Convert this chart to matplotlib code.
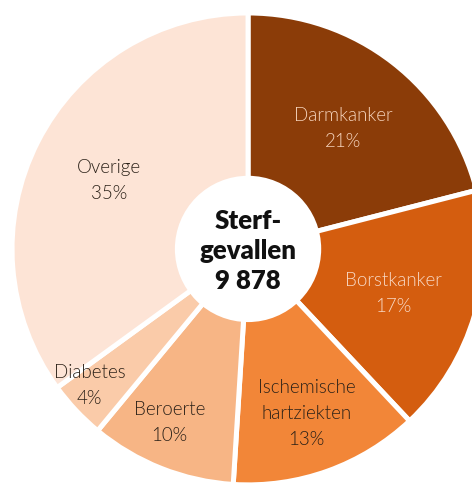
import numpy as np
import matplotlib.pyplot as plt
from matplotlib.patches import Circle

# data
labels = ['Darmkanker', 'Borstkanker', 'Ischemische\nhartziekten', 'Beroerte', 'Diabetes', 'Overige']
shares = [21, 17, 13, 10, 4, 35]
total_label = 'Sterf-\ngevallen\n9 878'

colors = ['#8B3C08', '#D45D0F', '#F28638', '#F7B585', '#FACBA9', '#FDE4D6']
text_colors = ['#F6D4BD', '#F8D9C6', '#2B2118', '#2B2118', '#2B2118', '#2B2118']
label_dist = [0.66, 0.64, 0.73, 0.80, 0.88, 0.66]
label_turn = [0, 0, 0, -3, -3, 0]  # kleine hoekcorrectie voor labels (graden)

plt.rcParams['font.family'] = ['Lato', 'DejaVu Sans']

fig = plt.figure(figsize=(4.72, 4.83), dpi=100)
ax = fig.add_axes([0, 0, 1, 1])

wedges, _ = ax.pie(shares, colors=colors, startangle=90, counterclock=False,
                   radius=1.0, wedgeprops=dict(edgecolor='white', linewidth=3.6))

for w, lab, share, tc, d, t in zip(wedges, labels, shares, text_colors, label_dist, label_turn):
    mid = np.deg2rad((w.theta1 + w.theta2) / 2 + t)
    ax.text(d * np.cos(mid), d * np.sin(mid) - 0.01, f'{lab}\n{share}%',
            ha='center', va='center', fontsize=13.5, color=tc,
            fontweight=300, linespacing=1.65)

ax.add_patch(Circle((0, 0), 0.31, facecolor='white', edgecolor='none', zorder=5))
ax.text(0, -0.01, total_label, ha='center', va='center', fontsize=18.5,
        fontweight='heavy', color='#111111', linespacing=1.3, zorder=6)

ax.set_xlim(-1.051, 0.949)
ax.set_ylim(-0.992, 1.055)
ax.set_aspect('auto')
ax.axis('off')

fig.savefig('out.png', dpi=100)
